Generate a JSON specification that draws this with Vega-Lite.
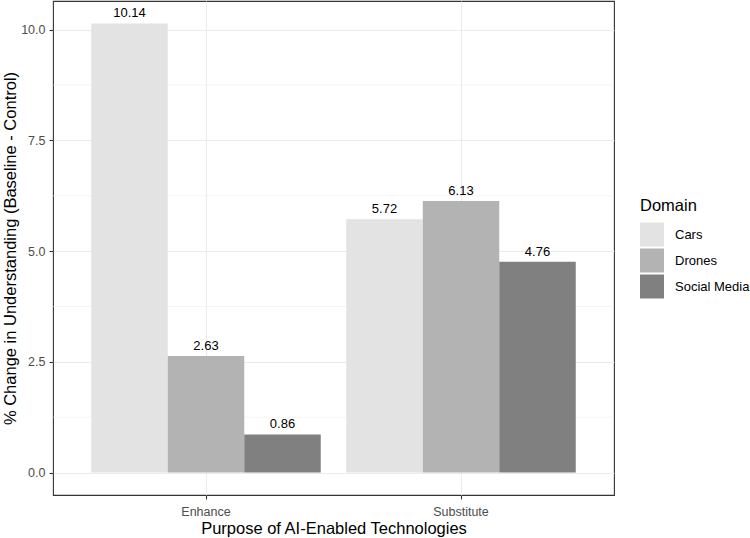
{
  "$schema": "https://vega.github.io/schema/vega-lite/v6.json",
  "autosize": {"type": "none"},
  "width": 561,
  "height": 494,
  "padding": {"left": 53, "top": 1, "right": 136, "bottom": 43},
  "background": "white",
  "config": {
    "font": "Liberation Sans",
    "view": {"stroke": "#333333", "strokeWidth": 1.1},
    "axis": {
      "domain": false,
      "gridColor": "#EBEBEB",
      "gridWidth": 1.1,
      "tickColor": "#333333",
      "tickSize": 4,
      "tickWidth": 1.1,
      "labelColor": "#4D4D4D",
      "labelFontSize": 12.5,
      "labelFont": "Liberation Sans",
      "titleFont": "Liberation Sans",
      "titleFontSize": 16.5,
      "titleFontWeight": "normal",
      "titleColor": "#000000"
    }
  },
  "data": {
    "values": [
      {"Purpose": "Enhance", "Domain": "Cars", "Change": 10.14},
      {"Purpose": "Enhance", "Domain": "Drones", "Change": 2.63},
      {"Purpose": "Enhance", "Domain": "Social Media", "Change": 0.86},
      {"Purpose": "Substitute", "Domain": "Cars", "Change": 5.72},
      {"Purpose": "Substitute", "Domain": "Drones", "Change": 6.13},
      {"Purpose": "Substitute", "Domain": "Social Media", "Change": 4.76}
    ]
  },
  "layer": [
    {
      "data": {"values": [{"g": 1.25}, {"g": 3.75}, {"g": 6.25}, {"g": 8.75}]},
      "mark": {"type": "rule", "color": "#EBEBEB", "strokeWidth": 0.55},
      "encoding": {
        "y": {"field": "g", "type": "quantitative"}
      }
    },
    {
      "mark": {"type": "bar"},
      "encoding": {
        "x": {
          "field": "Purpose", "type": "nominal",
          "scale": {"paddingInner": 0.1, "paddingOuter": 0.15},
          "axis": {"labelAngle": 0, "title": "Purpose of AI-Enabled Technologies", "grid": true, "bandPosition": 0.5, "labelPadding": 6, "titlePadding": 3}
        },
        "xOffset": {"field": "Domain", "type": "nominal", "scale": {"paddingInner": 0, "paddingOuter": 0}},
        "y": {
          "field": "Change", "type": "quantitative",
          "scale": {"domain": [-0.507, 10.647], "nice": false, "zero": false},
          "axis": {"values": [0, 2.5, 5, 7.5, 10], "format": ".1f", "title": "% Change in Understanding (Baseline - Control)", "labelPadding": 4, "titlePadding": 2}
        },
        "color": {
          "field": "Domain", "type": "nominal",
          "scale": {"domain": ["Cars", "Drones", "Social Media"], "range": ["#E3E3E3", "#B3B3B3", "#808080"]},
          "legend": {
            "title": "Domain",
            "orient": "none",
            "legendX": 587,
            "legendY": 197,
            "titleFontSize": 16.5,
            "titleFontWeight": "normal",
            "titleColor": "#000000",
            "titleFont": "Liberation Sans",
            "titlePadding": 8,
            "labelFontSize": 13,
            "labelColor": "#000000",
            "labelFont": "Liberation Sans",
            "labelOffset": 11,
            "symbolType": "square",
            "symbolSize": 576,
            "symbolStrokeWidth": 0,
            "symbolOpacity": 1,
            "rowPadding": 2
          }
        }
      }
    },
    {
      "mark": {"type": "text", "baseline": "bottom", "dy": -3, "fontSize": 13, "color": "#000000"},
      "encoding": {
        "x": {"field": "Purpose", "type": "nominal"},
        "xOffset": {"field": "Domain", "type": "nominal"},
        "y": {"field": "Change", "type": "quantitative"},
        "text": {"field": "Change", "type": "quantitative", "format": ".2f"}
      }
    }
  ]
}
